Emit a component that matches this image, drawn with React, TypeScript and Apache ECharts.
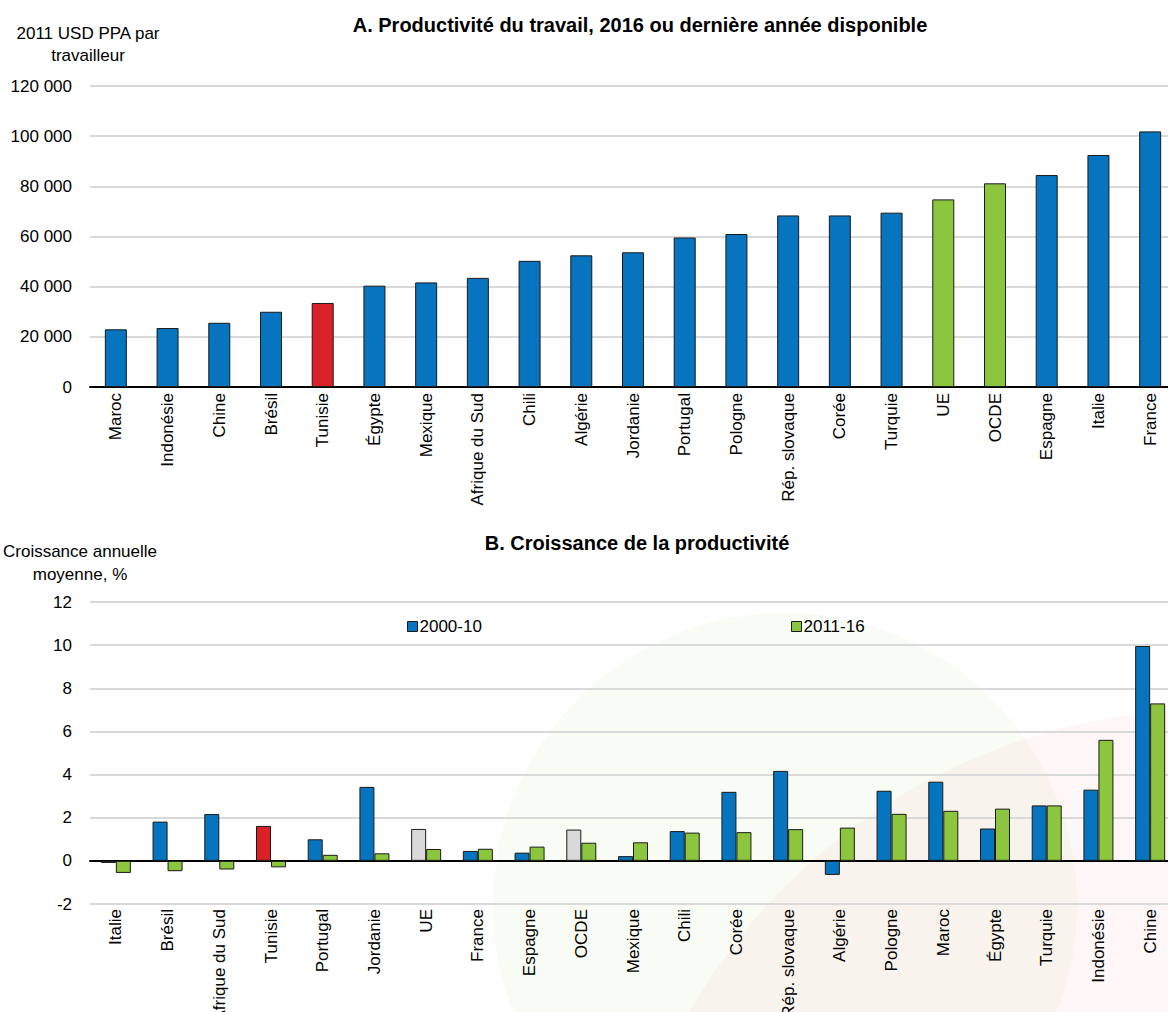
import React, { useEffect, useRef } from "react";
import * as echarts from "echarts";

const FONT = "'Liberation Sans', Arial, sans-serif";
const BLUE = "#0674BE";
const GREEN = "#8CC63E";
const RED = "#DB2128";
const GREY = "#D9D9D9";
const BORDER = "#1a1a1a";

// Panel A
const catA = [
  "Maroc", "Indonésie", "Chine", "Brésil", "Tunisie", "Égypte", "Mexique",
  "Afrique du Sud", "Chili", "Algérie", "Jordanie", "Portugal", "Pologne",
  "Rép. slovaque", "Corée", "Turquie", "UE", "OCDE", "Espagne", "Italie", "France",
];
const valA = [
  23000, 23500, 25600, 30000, 33500, 40400, 41700, 43500, 50300, 52500, 53700,
  59600, 61000, 68400, 68400, 69500, 74800, 81200, 84500, 92500, 101900,
];
const redA = ["Tunisie"];
const greenA = ["UE", "OCDE"];

// Panel B
const catB = [
  "Italie", "Brésil", "Afrique du Sud", "Tunisie", "Portugal", "Jordanie", "UE",
  "France", "Espagne", "OCDE", "Mexique", "Chili", "Corée", "Rép. slovaque",
  "Algérie", "Pologne", "Maroc", "Égypte", "Turquie", "Indonésie", "Chine",
];
const b2000 = [
  -0.1, 1.82, 2.17, 1.62, 1.0, 3.43, 1.48, 0.46, 0.38, 1.45, 0.22, 1.38, 3.2,
  4.17, -0.65, 3.25, 3.67, 1.5, 2.57, 3.3, 9.96,
];
const b2011 = [
  -0.56, -0.48, -0.4, -0.3, 0.28, 0.35, 0.55, 0.56, 0.66, 0.84, 0.86, 1.31,
  1.33, 1.47, 1.54, 2.18, 2.32, 2.42, 2.57, 5.61, 7.3,
];
const redB = ["Tunisie"];
const greyB = ["UE", "OCDE"];
const seriesNames = ["2000-10", "2011-16"];

const fmtThousands = (v: number) =>
  String(v).replace(/\B(?=(\d{3})+(?!\d))/g, " ");

export default function App() {
  const ref = useRef<HTMLDivElement>(null);

  useEffect(() => {
    if (!ref.current) return;
    const chart = echarts.init(ref.current, undefined, { renderer: "svg" });

    const txt = (text: string, x: number, y: number, size: number, bold = false) => ({
      type: "text",
      x,
      y,
      style: {
        text,
        fill: "#000",
        fontSize: size,
        fontWeight: bold ? "bold" : "normal",
        fontFamily: FONT,
        align: "center",
        verticalAlign: "middle",
      },
    });

    const catAxisLabel = { rotate: 90, fontSize: 17, color: "#000", fontFamily: FONT };
    const tickStyle = { inside: true, length: 5, lineStyle: { color: "#000", width: 2 } };
    const splitLine = { show: true, lineStyle: { color: "#d9d9d9", width: 2 } };

    const option: any = {
      animation: false,
      backgroundColor: "#fff",
      textStyle: { fontFamily: FONT },
      graphic: [
        {
          type: "circle",
          z: -10,
          shape: { cx: 785, cy: 905, r: 292 },
          style: { fill: "rgba(140,198,63,0.055)" },
          silent: true,
        },
        {
          type: "circle",
          z: -10,
          shape: { cx: 1210, cy: 1310, r: 600 },
          style: { fill: "rgba(219,33,40,0.04)" },
          silent: true,
        },
        txt("A. Productivité du travail, 2016 ou dernière année disponible", 640, 25, 20, true),
        txt("B. Croissance de la productivité", 637, 543, 20, true),
        txt("2011 USD PPA par", 88, 33, 17),
        txt("travailleur", 88, 55, 17),
        txt("Croissance annuelle", 80, 551, 17),
        txt("moyenne, %", 80, 574, 17),
      ],
      legend: [
        {
          data: [seriesNames[0]],
          left: 402,
          top: 613,
          icon: "rect",
          itemWidth: 10,
          itemHeight: 10,
          itemGap: 4,
          textStyle: { fontSize: 17, color: "#000", fontFamily: FONT, padding: [0, 0, 0, -3] },
          itemStyle: { borderColor: BORDER, borderWidth: 1 },
        },
        {
          data: [seriesNames[1]],
          left: 786,
          top: 613,
          icon: "rect",
          itemWidth: 10,
          itemHeight: 10,
          textStyle: { fontSize: 17, color: "#000", fontFamily: FONT, padding: [0, 0, 0, -3] },
          itemStyle: { borderColor: BORDER, borderWidth: 1 },
        },
      ],
      grid: [
        { left: 90, top: 86, width: 1086, height: 301, containLabel: false, outerBoundsMode: "none" },
        { left: 90, top: 602, width: 1086, height: 302, containLabel: false, outerBoundsMode: "none" },
      ],
      xAxis: [
        {
          gridIndex: 0,
          type: "category",
          data: catA,
          axisLine: { lineStyle: { color: "#000", width: 2 } },
          axisTick: tickStyle,
          axisLabel: { ...catAxisLabel, margin: 6 },
        },
        {
          gridIndex: 1,
          type: "category",
          data: catB,
          position: "bottom",
          axisLine: { show: false, onZero: false },
          axisTick: { show: false },
          axisLabel: { ...catAxisLabel, margin: 5 },
        },
        {
          gridIndex: 1,
          type: "category",
          data: catB,
          axisLine: { onZero: true, lineStyle: { color: "#000", width: 2 } },
          axisTick: tickStyle,
          axisLabel: { show: false },
        },
      ],
      yAxis: [
        {
          gridIndex: 0,
          type: "value",
          min: 0,
          max: 120000,
          interval: 20000,
          axisLine: { show: false },
          axisTick: { show: false },
          axisLabel: {
            fontSize: 17,
            color: "#000",
            margin: 18,
            fontFamily: FONT,
            formatter: (v: number) => fmtThousands(v),
          },
          splitLine,
        },
        {
          gridIndex: 1,
          type: "value",
          min: -2,
          max: 12,
          interval: 2,
          axisLine: { show: false },
          axisTick: { show: false },
          axisLabel: { fontSize: 17, color: "#000", margin: 18, fontFamily: FONT },
          splitLine,
        },
      ],
      series: [
        {
          type: "bar",
          xAxisIndex: 0,
          yAxisIndex: 0,
          barWidth: 22,
          itemStyle: { color: BLUE, borderColor: BORDER, borderWidth: 1 },
          data: valA.map((v, i) => ({
            value: v,
            itemStyle: {
              color: redA.includes(catA[i]) ? RED : greenA.includes(catA[i]) ? GREEN : BLUE,
            },
          })),
        },
        {
          name: seriesNames[0],
          type: "bar",
          xAxisIndex: 1,
          yAxisIndex: 1,
          barWidth: 15,
          barGap: "0%",
          itemStyle: { color: BLUE, borderColor: BORDER, borderWidth: 1 },
          data: b2000.map((v, i) => ({
            value: v,
            itemStyle: {
              color: redB.includes(catB[i]) ? RED : greyB.includes(catB[i]) ? GREY : BLUE,
            },
          })),
        },
        {
          name: seriesNames[1],
          type: "bar",
          xAxisIndex: 1,
          yAxisIndex: 1,
          barWidth: 15,
          barGap: "0%",
          itemStyle: { color: GREEN, borderColor: BORDER, borderWidth: 1 },
          data: b2011,
        },
      ],
    };

    chart.setOption(option);
    return () => chart.dispose();
  }, []);

  return (
    <div
      ref={ref}
      style={{ position: "absolute", left: 0, top: 0, width: 1168, height: 1012, overflow: "hidden" }}
    />
  );
}
